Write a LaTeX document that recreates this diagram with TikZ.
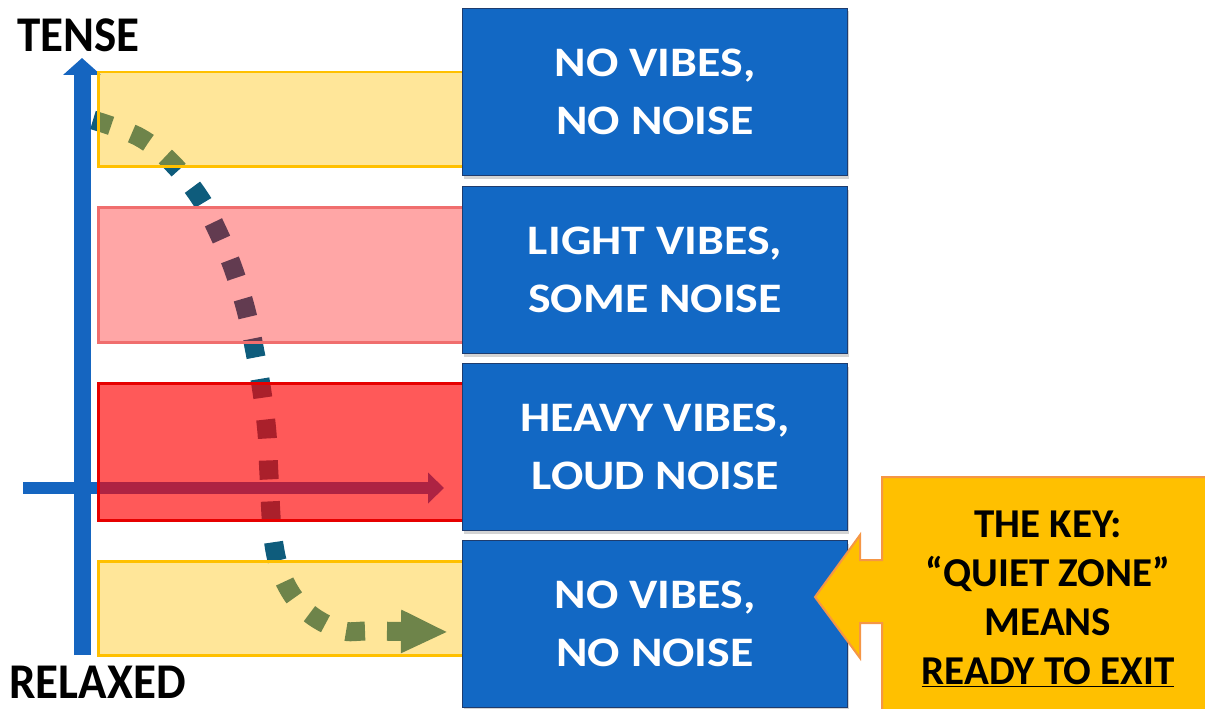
\documentclass[tikz,border=0pt]{standalone}
\usepackage{fontspec}
\setmainfont{Carlito}
\newfontfamily\widefont{Carlito}[FakeStretch=1.14]
\newfontfamily\narrowfont{Carlito}[FakeStretch=0.94]
\usetikzlibrary{arrows.meta,shadows}
\definecolor{axisblue}{RGB}{21,101,192}
\definecolor{boxblue}{RGB}{18,104,196}
\definecolor{boxedge}{RGB}{30,60,110}
\definecolor{curvecol}{RGB}{14,92,124}
\definecolor{bandyellow}{RGB}{255,192,0}
\definecolor{keyfill}{RGB}{255,192,0}
\definecolor{keyedge}{RGB}{245,150,70}
\tikzset{
  bandbox/.style={draw, line width=2.5pt, minimum width=365pt, anchor=north west, inner sep=0pt},
  yband/.style={bandbox, draw=bandyellow, fill=bandyellow, fill opacity=0.4, draw opacity=1},
  pband/.style={bandbox, draw={rgb,255:red,240;green,110;blue,110}, fill=red, fill opacity=0.35},
  rband/.style={bandbox, draw={rgb,255:red,230;green,0;blue,0}, fill=red, fill opacity=0.65},
  bluebox/.style={draw=boxedge, line width=1pt, fill=boxblue, text=white, minimum width=385pt, minimum height=167pt, anchor=north west, align=center, font=\widefont\fontsize{42}{58}\selectfont\bfseries, drop shadow={shadow xshift=1pt, shadow yshift=-3pt, opacity=0.35}},
  axisline/.style={axisblue, line width=17pt},
  bigword/.style={font=\narrowfont\fontsize{50}{55}\selectfont\bfseries, text=black, inner sep=0pt},
}
\begin{document}
\begin{tikzpicture}[x=1pt,y=-1pt]
\useasboundingbox (0,0) rectangle (1205,709);
% axes
\coordinate (hs) at (23,488);
\coordinate (he) at (444,488);
\coordinate (vs) at (82,655);
\coordinate (ve) at (82,58);
\draw[axisblue, line width=12pt, -{Triangle[length=16pt,width=30pt]}] (hs) -- (he);
\draw[axisline, -{Triangle[length=17pt,width=37pt]}] (vs) -- (ve);
% dotted curve
\coordinate (cs) at (93,120);
\coordinate (ce) at (448,632);
\draw[curvecol, line width=19pt, dash pattern=on 19pt off 22pt, -{Triangle[length=47pt,width=40pt]}]
  plot[smooth, tension=0.6] coordinates {(cs) (139,137) (172,163) (200,198) (218,232) (233,268) (246,310) (255,352) (262,392) (267,433) (269,475) (273,538) (283,578) (305,610) (340,630) (372,631) (ce)};
% bands
\node[yband, minimum height=94pt] (y1) at (97,71) {};
\node[pband, minimum height=135pt] (p2) at (97,206) {};
\node[rband, minimum height=137pt] (r3) at (97,382) {};
\node[yband, minimum height=94pt] (y4) at (97,560) {};
% blue boxes
\node[bluebox] (b1) at (462,8) {NO VIBES,\\NO NOISE};
\node[bluebox] (b2) at (462,186) {LIGHT VIBES,\\SOME NOISE};
\node[bluebox] (b3) at (462,363) {HEAVY VIBES,\\LOUD NOISE};
\node[bluebox] (b4) at (462,540) {NO VIBES,\\NO NOISE};
% key callout
\coordinate (ktip) at (815,597);
\fill[keyfill] (882,477) -- (1215,477) -- (1215,720) -- (882,720) -- (882,623) -- (860,623) -- (860,658) -- (ktip) -- (860,535) -- (860,560) -- (882,560) -- cycle;
\draw[keyedge, line width=2pt] (1215,477) -- (882,477) -- (882,560) -- (860,560) -- (860,535) -- (ktip) -- (860,658) -- (860,623) -- (882,623) -- (882,720);
\node[align=center, text=black, font=\fontsize{41}{49}\selectfont\bfseries, inner sep=0pt] (key) at (1048,599) {THE KEY:\\``QUIET ZONE''\\MEANS\\\underline{READY TO EXIT}};
% axis labels
\node[bigword] (tense) at (78.5,35) {TENSE};
\node[bigword] (relaxed) at (97.5,682) {RELAXED};
\end{tikzpicture}
\end{document}
